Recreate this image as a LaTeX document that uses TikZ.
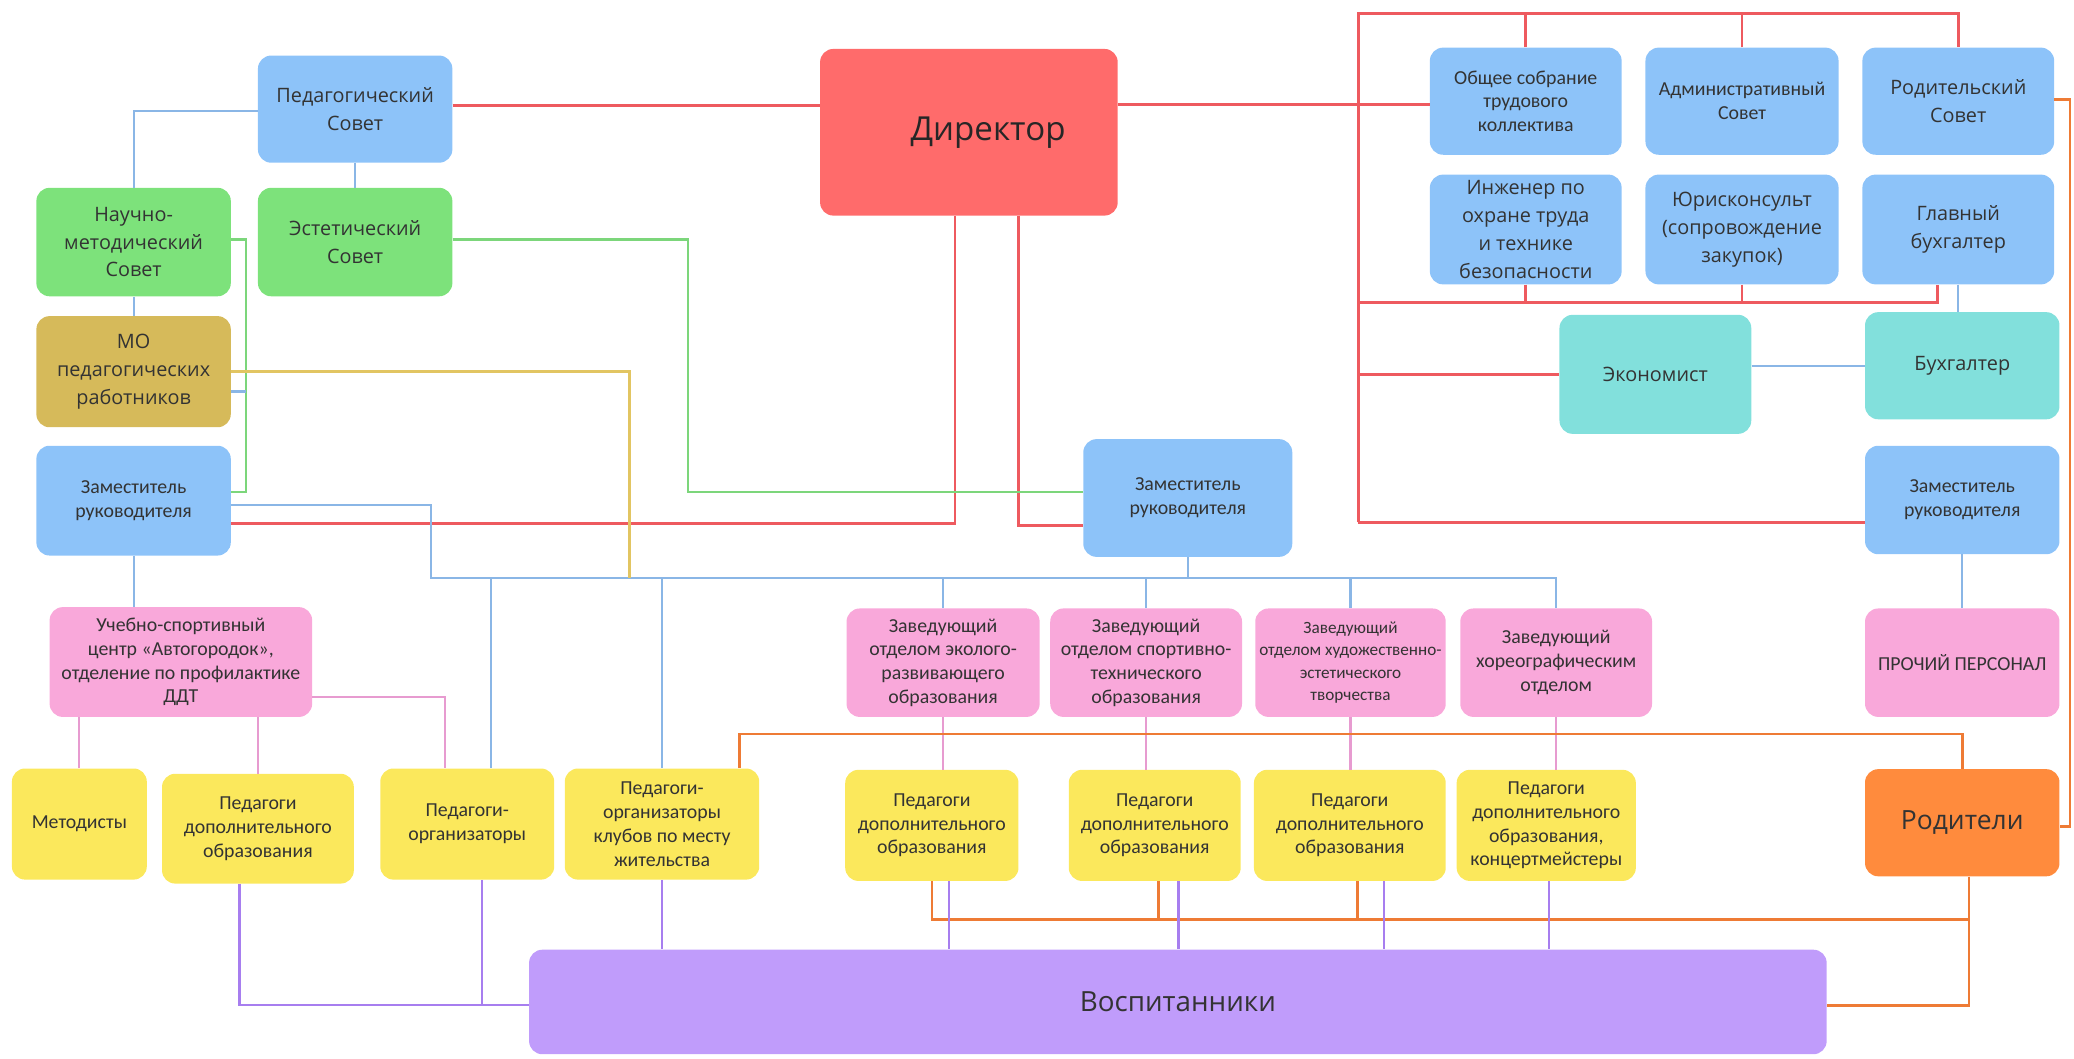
\documentclass[tikz,border=0pt]{standalone}
\usepackage{fontspec}
\setmainfont{Carlito}
\newfontfamily\osans{Open Sans}
\definecolor{txt}{HTML}{333333}
\definecolor{cblue}{HTML}{8DC3F9}
\definecolor{cred}{HTML}{FF6B6B}
\definecolor{cgreen}{HTML}{7DE27B}
\definecolor{cgold}{HTML}{D6BA5A}
\definecolor{cteal}{HTML}{82E0DC}
\definecolor{cpink}{HTML}{F9A8DA}
\definecolor{cyel}{HTML}{FBE85C}
\definecolor{corange}{HTML}{FF8B3D}
\definecolor{cpurple}{HTML}{C09CFB}
\definecolor{lred}{HTML}{EE5A5F}
\definecolor{lblue}{HTML}{8AB6E6}
\definecolor{lgreen}{HTML}{7CD67B}
\definecolor{lgold}{HTML}{E2C562}
\definecolor{lpink}{HTML}{E79BD0}
\definecolor{lorange}{HTML}{EE7B35}
\definecolor{lpurple}{HTML}{A77EEF}
\tikzset{
  bx/.style={rounded corners=10pt, align=center, inner sep=1pt, text=txt},
  sz/.style 2 args={minimum width=#1pt, minimum height=#2pt},
  bigt/.style={font=\osans\fontsize{15}{21}\selectfont},
  smt/.style={font=\fontsize{15}{18}\selectfont},
  nblue/.style={bx, fill=cblue},
  ngreen/.style={bx, fill=cgreen},
  ngold/.style={bx, fill=cgold},
  nteal/.style={bx, fill=cteal},
  npink/.style={bx, fill=cpink},
  nyel/.style={bx, fill=cyel},
  rl/.style={draw=lred, line width=2.2pt},
  bl/.style={draw=lblue, line width=1.6pt},
  gl/.style={draw=lgreen, line width=1.8pt},
  yl/.style={draw=lgold, line width=1.8pt},
  pl/.style={draw=lpink, line width=1.6pt},
  orl/.style={draw=lorange, line width=2pt},
  pul/.style={draw=lpurple, line width=1.8pt},
}
\begin{document}
\begin{tikzpicture}[x=1pt, y=-1pt]
\useasboundingbox (0,0) rectangle (1568,800);
% top left
\node[nblue, bigt, sz={147}{81}] (ped) at (268.5,82.5) {Педагогический\\Совет};
\node[bx, fill=cred, sz={225}{126}, font=\osans\fontsize{25}{30}\selectfont, text=black!85] (dir) at (732.5,100) {\hspace*{29pt}Директор};
\node[ngreen, bigt, sz={147}{82}] (nauch) at (101,183) {Научно-\\методический\\Совет};
\node[ngreen, bigt, sz={147}{82}] (est) at (268.5,183) {Эстетический\\Совет};
\node[ngold, bigt, sz={147}{84}] (mo) at (101,281) {МО\\педагогических\\работников};
\node[nblue, smt, sz={147}{83}] (zamL) at (101,378.5) {Заместитель\\руководителя};
% top right
\node[nblue, smt, sz={145}{81}] (obsh) at (1153.5,76.5) {Общее собрание\\трудового\\коллектива};
\node[nblue, smt, sz={146}{81}] (adm) at (1317,76.5) {Административный\\Совет};
\node[nblue, bigt, sz={145}{81}] (rods) at (1480.5,76.5) {Родительский\\Совет};
\node[nblue, bigt, sz={145}{83}] (ing) at (1153.5,173.5) {Инженер по\\охране труда\\и технике\\безопасности};
\node[nblue, bigt, sz={146}{83}] (yur) at (1317,173.5) {Юрисконсульт\\(сопровождение\\закупок)};
\node[nblue, bigt, sz={145}{83}] (glav) at (1480.5,173.5) {Главный\\бухгалтер};
\node[nteal, bigt, sz={145}{90}] (econ) at (1251.5,283) {Экономист};
\node[nteal, bigt, sz={147}{81}] (buh) at (1483.5,276.5) {Бухгалтер};
\node[nblue, smt, sz={147}{82}] (zamR) at (1483.5,378) {Заместитель\\руководителя};
\node[nblue, smt, sz={158}{89}] (zamC) at (898,376.5) {Заместитель\\руководителя};
% pink row
\node[npink, smt, sz={198.5}{83}] (uch) at (136.75,500.5) {Учебно-спортивный\\центр «Автогородок»,\\отделение по профилактике\\ДДТ};
\node[npink, smt, sz={146}{82}] (eko) at (713,501) {Заведующий\\отделом эколого-\\развивающего\\образования};
\node[npink, smt, sz={145}{82}] (sport) at (866.5,501) {Заведующий\\отделом спортивно-\\технического\\образования};
\node[npink, sz={144}{82}, font=\fontsize{13}{17}\selectfont] (hud) at (1021,501) {Заведующий\\отделом художественно-\\эстетического\\творчества};
\node[npink, smt, sz={145}{82}] (hor) at (1176.5,501) {Заведующий\\хореографическим\\отделом};
\node[npink, smt, sz={147}{82}] (proch) at (1483.5,501) {ПРОЧИЙ ПЕРСОНАЛ};
% yellow row
\node[nyel, smt, sz={102}{84}] (met) at (60,623) {Методисты};
\node[nyel, smt, sz={145}{83}] (pdo) at (195,626.5) {Педагоги\\дополнительного\\образования};
\node[nyel, smt, sz={131.5}{84}] (pedorg) at (353.25,623) {Педагоги-\\организаторы};
\node[nyel, smt, sz={147}{84}] (klub) at (500.5,623) {Педагоги-\\организаторы\\клубов по месту\\жительства};
\node[nyel, smt, sz={131}{84}] (p1) at (704.5,624) {Педагоги\\дополнительного\\образования};
\node[nyel, smt, sz={130}{84}] (p2) at (873,624) {Педагоги\\дополнительного\\образования};
\node[nyel, smt, sz={145}{84}] (p3) at (1020.5,624) {Педагоги\\дополнительного\\образования};
\node[nyel, smt, sz={135.5}{84}] (p4) at (1169,624) {Педагоги\\дополнительного\\образования,\\концертмейстеры};
\node[bx, fill=corange, sz={147}{81}, font=\osans\fontsize{20}{24}\selectfont] (rodi) at (1483.5,622) {Родители};
\node[bx, fill=cpurple, sz={981}{79}, font=\osans\fontsize{21}{25}\selectfont] (vos) at (890.5,757.5) {Воспитанники};
% helper coordinates
\coordinate (rtop) at (1027,10);
\coordinate (rbot) at (1027,395);
\coordinate (r2) at (1027,229);
\coordinate (bus) at (0,437);
\coordinate (ob) at (0,555);
\coordinate (ob2) at (0,695);
\coordinate (pb) at (0,760);
% red
\draw[rl] (ped.east |- 0,80) -- (dir.west |- 0,80);
\draw[rl] (dir.east |- 0,79) -- (obsh.west |- 0,79);
\draw[rl] (rbot) -- (rtop) -| (rods.north);
\draw[rl] (obsh.north) -- (obsh.north |- rtop);
\draw[rl] (adm.north) -- (adm.north |- rtop);
\draw[rl] (r2) -| ([xshift=-16pt]glav.south);
\draw[rl] (ing.south) -- (ing.south |- r2);
\draw[rl] (yur.south) -- (yur.south |- r2);
\draw[rl] (rtop |- econ.west) -- (econ.west);
\draw[rl] (rbot) -- (zamR.west |- rbot);
\draw[rl] (dir.south -| 722,0) |- (zamL.east |- 0,396);
\draw[rl] (dir.south -| 770,0) |- (zamC.west |- 0,397);
% green
\draw[gl] (est.east |- 0,181) -- (520,181) |- (zamC.west |- 0,372);
\draw[gl] (nauch.east |- 0,181) -- (186,181) |- (zamL.east |- 0,372);
% blue
\draw[bl] (ped.west |- 0,84) -| (nauch.north);
\draw[bl] (ped.south) -- (est.north);
\draw[bl] (nauch.south) -- (mo.north);
\draw[bl] (mo.east |- 0,296) -- (186,296);
\draw[bl] (zamL.east |- 0,382) -| (326,437) -| (hor.north);
\draw[bl] (zamC.south) -- (zamC.south |- bus);
\draw[bl] (eko.north |- bus) -- (eko.north);
\draw[bl] (sport.north |- bus) -- (sport.north);
\draw[bl] (hud.north |- bus) -- (hud.north);
\draw[bl] ([xshift=18pt]pedorg.north |- bus) -- ([xshift=18pt]pedorg.north);
\draw[bl] (klub.north |- bus) -- (klub.north);
\draw[bl] (zamL.south) -- (zamL.south |- uch.north);
\draw[bl] (glav.south) -- (glav.south |- buh.north);
\draw[bl] (econ.east |- 0,277) -- (buh.west |- 0,277);
\draw[bl] (zamR.south) -- (proch.north);
% gold
\draw[yl] (mo.east |- 0,281) -| (476,437);
% pink
\draw[pl] (met.north) -- (met.north |- uch.south);
\draw[pl] (pdo.north) -- (pdo.north |- uch.south);
\draw[pl] (uch.east |- 0,527) -| ([xshift=-17pt]pedorg.north);
\draw[pl] (eko.south) -- (eko.south |- p1.north);
\draw[pl] (sport.south) -- (sport.south |- p2.north);
\draw[pl] (hud.south) -- (hud.south |- p3.north);
\draw[pl] (hor.south) -- (hor.south |- p4.north);
% orange
\draw[orl] (rods.east |- 0,75) -- (1565,75) |- (rodi.east |- 0,625);
\draw[orl] ([xshift=58.5pt]klub.north) |- (rodi.north |- ob) -- (rodi.north);
\draw[orl] (p1.south) |- ([xshift=5pt]rodi.south |- ob2);
\draw[orl] ([xshift=3pt]p2.south) -- ([xshift=3pt]p2.south |- ob2);
\draw[orl] ([xshift=6pt]p3.south) -- ([xshift=6pt]p3.south |- ob2);
\draw[orl] ([xshift=5pt]rodi.south) |- (vos.east |- pb);
% purple
\draw[pul] ([xshift=-14pt]pdo.south) |- (vos.west |- pb);
\draw[pul] ([xshift=11pt]pedorg.south) -- ([xshift=11pt]pedorg.south |- pb);
\draw[pul] (klub.south) -- (klub.south |- vos.north);
\draw[pul] ([xshift=13pt]p1.south) -- ([xshift=13pt]p1.south |- vos.north);
\draw[pul] ([xshift=18pt]p2.south) -- ([xshift=18pt]p2.south |- vos.north);
\draw[pul] ([xshift=26pt]p3.south) -- ([xshift=26pt]p3.south |- vos.north);
\draw[pul] ([xshift=2pt]p4.south) -- ([xshift=2pt]p4.south |- vos.north);
\end{tikzpicture}
\end{document}
